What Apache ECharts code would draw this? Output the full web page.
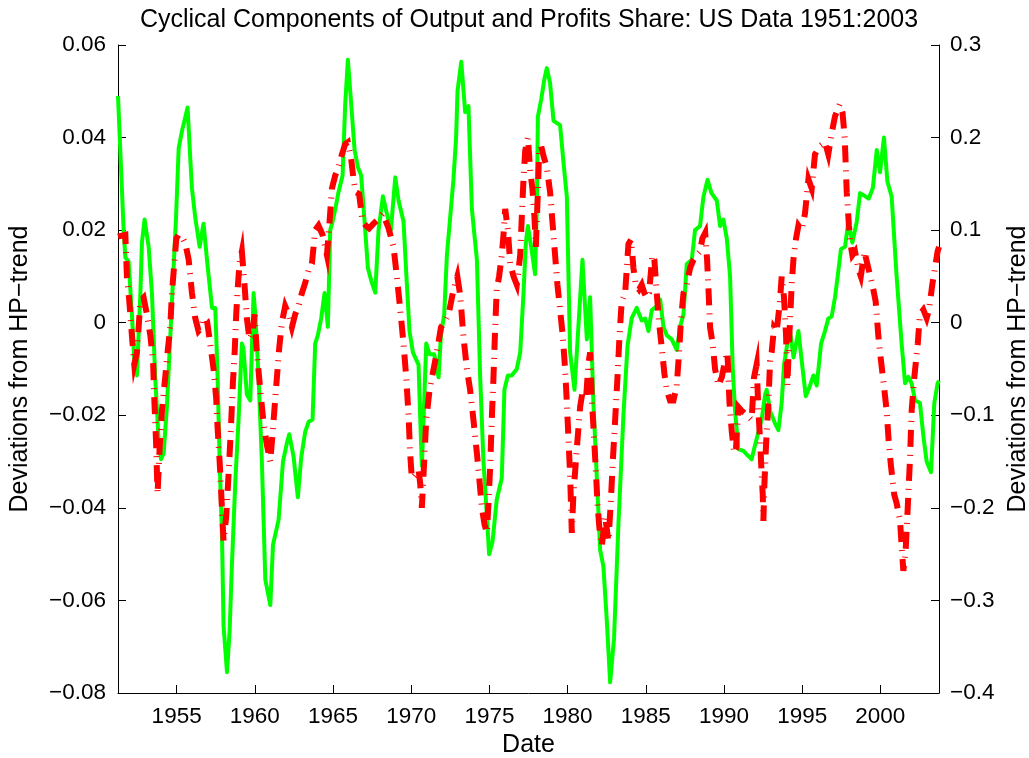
<!DOCTYPE html>
<html>
<head>
<meta charset="utf-8">
<title>Cyclical Components of Output and Profits Share</title>
<script src="https://cdn.jsdelivr.net/npm/echarts@6/dist/echarts.min.js"></script>
<style>
  html, body { margin: 0; padding: 0; background: #ffffff; overflow: hidden; }
  #chart { position: absolute; left: 0; top: 0; width: 1029px; height: 758px; }
</style>
</head>
<body>
<div id="chart"></div>
<script>
// Output: HP-filtered cyclical component (left axis)
const outputYears = [
  1951.25, 1951.61, 1951.72, 1951.93, 1952.14, 1952.29, 1952.46, 1952.68, 1952.78, 1952.95,
  1953.21, 1953.42, 1953.63, 1953.85, 1954.00, 1954.17, 1954.38, 1954.70, 1954.96, 1955.13,
  1955.34, 1955.70, 1955.87, 1955.98, 1956.19, 1956.47, 1956.72, 1956.94, 1957.26, 1957.47,
  1957.62, 1957.75, 1957.90, 1958.00, 1958.22, 1958.39, 1958.53, 1958.75, 1958.96, 1959.17,
  1959.27, 1959.49, 1959.71, 1959.92, 1960.03, 1960.24, 1960.45, 1960.67, 1960.99, 1961.16,
  1961.52, 1961.80, 1962.05, 1962.20, 1962.48, 1962.75, 1962.97, 1963.22, 1963.44, 1963.69,
  1963.86, 1964.03, 1964.24, 1964.46, 1964.67, 1964.82, 1964.97, 1965.14, 1965.35, 1965.61,
  1965.78, 1965.95, 1966.16, 1966.38, 1966.59, 1966.80, 1967.02, 1967.23, 1967.44, 1967.70,
  1967.91, 1968.19, 1968.44, 1968.70, 1968.98, 1969.19, 1969.51, 1969.68, 1969.89, 1970.11,
  1970.47, 1970.57, 1970.68, 1970.79, 1970.96, 1971.17, 1971.47, 1971.75, 1971.90, 1972.11,
  1972.28, 1972.70, 1972.87, 1972.96, 1973.20, 1973.45, 1973.66, 1973.88, 1974.20, 1974.41,
  1974.62, 1974.84, 1974.98, 1975.20, 1975.47, 1975.79, 1975.96, 1976.18, 1976.43, 1976.75,
  1976.97, 1977.18, 1977.33, 1977.46, 1977.71, 1977.92, 1978.03, 1978.10, 1978.31, 1978.52,
  1978.67, 1978.88, 1979.10, 1979.52, 1979.74, 1979.95, 1980.16, 1980.44, 1980.69, 1980.95,
  1981.23, 1981.44, 1981.65, 1981.87, 1982.08, 1982.29, 1982.51, 1982.72, 1982.97, 1983.25,
  1983.57, 1983.83, 1984.10, 1984.42, 1984.74, 1984.96, 1985.17, 1985.38, 1985.70, 1985.92,
  1986.13, 1986.34, 1986.66, 1986.98, 1987.19, 1987.41, 1987.62, 1987.94, 1988.15, 1988.47,
  1988.69, 1988.95, 1989.20, 1989.54, 1989.75, 1989.96, 1990.18, 1990.39, 1990.56, 1990.71,
  1990.92, 1991.24, 1991.50, 1991.77, 1991.99, 1992.20, 1992.41, 1992.63, 1992.73, 1992.95,
  1993.27, 1993.48, 1993.69, 1993.84, 1994.05, 1994.22, 1994.45, 1994.76, 1994.97, 1995.23,
  1995.50, 1995.72, 1995.93, 1996.21, 1996.46, 1996.67, 1996.89, 1997.10, 1997.27, 1997.48,
  1997.74, 1997.95, 1998.21, 1998.49, 1998.70, 1998.95, 1999.25, 1999.52, 1999.77, 1999.98,
  2000.23, 2000.45, 2000.72, 2001.04, 2001.36, 2001.58, 2001.79, 2002.00, 2002.22, 2002.53,
  2002.75, 2002.96, 2003.24, 2003.45, 2003.66, 2003.75
];
const outputValues = [
  0.0490, 0.0200, 0.0141, 0.0132, 0.0018, -0.0082, -0.0114, 0.0064, 0.0173, 0.0223,
  0.0164, 0.0064, -0.0118, -0.0255, -0.0295, -0.0282, -0.0180, 0.0045, 0.0227, 0.0377,
  0.0414, 0.0465, 0.0355, 0.0290, 0.0227, 0.0164, 0.0214, 0.0136, 0.0032, 0.0032,
  -0.0118, -0.0300, -0.0460, -0.0655, -0.0755, -0.0664, -0.0527, -0.0345, -0.0209, -0.0045,
  -0.0055, -0.0155, -0.0168, 0.0064, 0.0018, -0.0118, -0.0300, -0.0555, -0.0610, -0.0480,
  -0.0426, -0.0300, -0.0260, -0.0241, -0.0290, -0.0377, -0.0290, -0.0236, -0.0214, -0.0209,
  -0.0045, -0.0027, 0.0009, 0.0064, -0.0009, 0.0200, 0.0218, 0.0245, 0.0282, 0.0318,
  0.0473, 0.0568, 0.0473, 0.0373, 0.0336, 0.0318, 0.0218, 0.0118, 0.0091, 0.0065,
  0.0200, 0.0273, 0.0236, 0.0200, 0.0314, 0.0264, 0.0218, 0.0109, -0.0018, -0.0064,
  -0.0091, -0.0200, -0.0309, -0.0209, -0.0045, -0.0068, -0.0068, -0.0118, -0.0027, 0.0018,
  0.0145, 0.0309, 0.0400, 0.0500, 0.0564, 0.0455, 0.0468, 0.0245, 0.0136, -0.0118,
  -0.0300, -0.0418, -0.0500, -0.0473, -0.0382, -0.0336, -0.0145, -0.0114, -0.0114, -0.0100,
  -0.0064, 0.0064, 0.0173, 0.0209, 0.0155, 0.0105, 0.0245, 0.0445, 0.0482, 0.0527,
  0.0550, 0.0518, 0.0436, 0.0427, 0.0345, 0.0273, -0.0064, -0.0145, -0.0009, 0.0136,
  -0.0036, 0.0055, -0.0173, -0.0336, -0.0491, -0.0527, -0.0645, -0.0777, -0.0682, -0.0436,
  -0.0200, -0.0050, 0.0010, 0.0032, 0.0005, 0.0009, -0.0018, 0.0027, 0.0036, 0.0050,
  -0.0009, -0.0027, -0.0036, -0.0059, -0.0009, 0.0018, 0.0127, 0.0136, 0.0200, 0.0209,
  0.0273, 0.0309, 0.0280, 0.0264, 0.0209, 0.0223, 0.0182, 0.0100, -0.0100, -0.0191,
  -0.0273, -0.0277, -0.0286, -0.0295, -0.0264, -0.0236, -0.0209, -0.0155, -0.0145, -0.0191,
  -0.0218, -0.0232, -0.0173, -0.0091, -0.0045, -0.0018, -0.0075, -0.0018, -0.0082, -0.0159,
  -0.0136, -0.0114, -0.0136, -0.0045, -0.0018, 0.0009, 0.0014, 0.0055, 0.0100, 0.0159,
  0.0164, 0.0218, 0.0173, 0.0218, 0.0280, 0.0275, 0.0268, 0.0291, 0.0373, 0.0325,
  0.0400, 0.0305, 0.0273, 0.0100, -0.0045, -0.0131, -0.0117, -0.0131, -0.0168, -0.0173,
  -0.0245, -0.0300, -0.0323, -0.0173, -0.0131, -0.0125
];

// Profits share: HP-filtered cyclical component (right axis)
const profitYears = [
  1951.25, 1951.72, 1951.82, 1951.93, 1952.04, 1952.14, 1952.29, 1952.46, 1952.57, 1952.68,
  1952.89, 1953.10, 1953.32, 1953.49, 1953.57, 1953.68, 1953.78, 1953.91, 1954.06, 1954.27,
  1954.42, 1954.59, 1954.70, 1954.85, 1954.98, 1955.13, 1955.34, 1955.55, 1955.77, 1955.98,
  1956.19, 1956.40, 1956.62, 1956.72, 1956.94, 1957.15, 1957.36, 1957.53, 1957.62, 1957.75,
  1957.83, 1957.92, 1958.00, 1958.17, 1958.32, 1958.47, 1958.60, 1958.71, 1958.81, 1958.90,
  1959.02, 1959.17, 1959.34, 1959.49, 1959.66, 1959.88, 1959.98, 1960.13, 1960.35, 1960.56,
  1960.77, 1960.99, 1961.16, 1961.37, 1961.56, 1961.73, 1961.94, 1962.16, 1962.37, 1962.58,
  1962.80, 1963.01, 1963.22, 1963.44, 1963.65, 1963.86, 1964.07, 1964.33, 1964.61, 1964.76,
  1964.93, 1965.14, 1965.35, 1965.57, 1965.78, 1965.95, 1966.16, 1966.31, 1966.46, 1966.67,
  1966.89, 1967.10, 1967.31, 1967.59, 1967.90, 1968.19, 1968.55, 1968.87, 1969.08, 1969.30,
  1969.51, 1969.68, 1969.83, 1969.93, 1970.04, 1970.25, 1970.47, 1970.57, 1970.68, 1970.83,
  1970.96, 1971.17, 1971.43, 1971.64, 1971.90, 1972.11, 1972.39, 1972.66, 1972.95, 1973.13,
  1973.34, 1973.56, 1973.77, 1973.98, 1974.20, 1974.35, 1974.52, 1974.69, 1974.84, 1974.94,
  1975.05, 1975.15, 1975.26, 1975.37, 1975.47, 1975.62, 1975.79, 1975.90, 1976.01, 1976.18,
  1976.33, 1976.54, 1976.75, 1976.97, 1977.07, 1977.18, 1977.29, 1977.46, 1977.61, 1977.75,
  1977.88, 1977.97, 1978.10, 1978.18, 1978.31, 1978.46, 1978.67, 1978.88, 1979.05, 1979.20,
  1979.35, 1979.52, 1979.69, 1979.84, 1979.95, 1980.06, 1980.16, 1980.27, 1980.37, 1980.59,
  1980.80, 1980.97, 1981.18, 1981.33, 1981.44, 1981.55, 1981.70, 1981.82, 1981.91, 1982.04,
  1982.19, 1982.40, 1982.61, 1982.76, 1982.89, 1983.04, 1983.19, 1983.32, 1983.46, 1983.68,
  1983.89, 1984.06, 1984.21, 1984.36, 1984.57, 1984.74, 1984.91, 1985.06, 1985.21, 1985.42,
  1985.55, 1985.70, 1985.85, 1986.02, 1986.19, 1986.34, 1986.55, 1986.77, 1986.98, 1987.13,
  1987.26, 1987.41, 1987.62, 1987.83, 1988.05, 1988.26, 1988.47, 1988.62, 1988.80, 1988.92,
  1989.02, 1989.11, 1989.28, 1989.43, 1989.64, 1989.86, 1990.07, 1990.22, 1990.35, 1990.50,
  1990.65, 1990.77, 1990.92, 1991.13, 1991.46, 1991.77, 1991.92, 1992.09, 1992.20, 1992.31,
  1992.41, 1992.48, 1992.52, 1992.58, 1992.69, 1992.84, 1992.95, 1993.05, 1993.20, 1993.37,
  1993.58, 1993.69, 1993.84, 1993.97, 1994.05, 1994.18, 1994.33, 1994.44, 1994.61, 1994.76,
  1994.97, 1995.18, 1995.40, 1995.61, 1995.82, 1996.14, 1996.46, 1996.67, 1996.89, 1997.10,
  1997.40, 1997.58, 1997.72, 1997.85, 1997.99, 1998.12, 1998.21, 1998.38, 1998.59, 1998.75,
  1998.98, 1999.23, 1999.49, 1999.70, 1999.87, 2000.04, 2000.26, 2000.40, 2000.55, 2000.68,
  2000.89, 2001.04, 2001.26, 2001.36, 2001.47, 2001.62, 2001.75, 2001.90, 2002.00, 2002.17,
  2002.39, 2002.53, 2002.75, 2002.96, 2003.11, 2003.32, 2003.49, 2003.66, 2003.75
];
const profitValues = [
  0.093, 0.095, 0.050, 0.032, 0.009, -0.014, -0.045, -0.032, -0.005, 0.023,
  0.027, 0.009, -0.014, -0.041, -0.082, -0.127, -0.185, -0.136, -0.095, -0.059,
  -0.032, -0.005, 0.032, 0.064, 0.091, 0.095, 0.093, 0.086, 0.068, 0.032,
  0.005, -0.009, -0.005, 0.005, 0.002, -0.023, -0.050, -0.082, -0.114, -0.150,
  -0.177, -0.209, -0.236, -0.209, -0.164, -0.114, -0.064, -0.032, 0.009, 0.036,
  0.064, 0.077, 0.041, 0.005, -0.018, -0.009, 0.009, -0.032, -0.073, -0.109,
  -0.132, -0.150, -0.114, -0.068, -0.027, 0.000, 0.018, 0.009, -0.005, 0.009,
  0.018, 0.032, 0.043, 0.057, 0.064, 0.100, 0.105, 0.095, 0.073, 0.105,
  0.145, 0.159, 0.168, 0.182, 0.193, 0.195, 0.177, 0.155, 0.141, 0.139,
  0.109, 0.105, 0.102, 0.107, 0.112, 0.118, 0.102, 0.082, 0.050, 0.014,
  -0.023, -0.059, -0.100, -0.141, -0.168, -0.164, -0.159, -0.173, -0.200, -0.150,
  -0.105, -0.073, -0.050, -0.032, -0.005, 0.000, 0.009, 0.032, 0.050, 0.030,
  -0.015, -0.050, -0.073, -0.105, -0.141, -0.168, -0.200, -0.218, -0.227, -0.195,
  -0.155, -0.105, -0.059, -0.005, 0.036, 0.050, 0.073, 0.095, 0.123, 0.100,
  0.064, 0.050, 0.041, 0.073, 0.114, 0.155, 0.186, 0.200, 0.164, 0.145,
  0.114, 0.082, 0.141, 0.186, 0.191, 0.180, 0.168, 0.141, 0.105, 0.073,
  0.041, 0.014, -0.014, -0.050, -0.086, -0.127, -0.164, -0.227, -0.186, -0.136,
  -0.091, -0.073, -0.082, -0.045, -0.032, -0.082, -0.127, -0.164, -0.195, -0.223,
  -0.241, -0.209, -0.236, -0.195, -0.150, -0.105, -0.059, -0.014, 0.023, 0.032,
  0.085, 0.090, 0.059, 0.041, 0.036, 0.041, 0.032, 0.027, 0.032, 0.073,
  0.068, 0.032, 0.000, -0.027, -0.055, -0.073, -0.084, -0.084, -0.068, -0.032,
  0.005, 0.032, 0.041, 0.059, 0.068, 0.073, 0.077, 0.091, 0.097, 0.068,
  0.032, -0.005, -0.023, -0.050, -0.068, -0.059, -0.041, -0.032, -0.086, -0.118,
  -0.141, -0.136, -0.091, -0.095, -0.100, -0.105, -0.059, -0.045, -0.095, -0.127,
  -0.164, -0.186, -0.214, -0.177, -0.132, -0.086, -0.041, -0.032, -0.005, -0.009,
  0.023, 0.050, 0.027, -0.014, -0.068, -0.014, 0.041, 0.068, 0.091, 0.105,
  0.100, 0.118, 0.155, 0.145, 0.182, 0.191, 0.195, 0.182, 0.205, 0.223,
  0.236, 0.227, 0.200, 0.141, 0.105, 0.082, 0.073, 0.077, 0.058, 0.050,
  0.077, 0.059, 0.041, 0.023, -0.014, -0.041, -0.073, -0.095, -0.132, -0.155,
  -0.186, -0.195, -0.214, -0.241, -0.268, -0.245, -0.200, -0.145, -0.095, -0.059,
  -0.023, 0.009, 0.014, 0.005, 0.014, 0.041, 0.059, 0.077, 0.082
];

// Axis ticks
const yearTicks = [1955, 1960, 1965, 1970, 1975, 1980, 1985, 1990, 1995, 2000];
const leftTickRange = { min: -0.08, max: 0.06, step: 0.02 };
const rightTickRange = { min: -0.4, max: 0.3, step: 0.1 };

const FONT = '"Liberation Sans", Arial, Helvetica, sans-serif';
const MINUS = '\u2212';
const TICK_FONT = 22.5;
const LABEL_FONT = 25;

function pairs(xs, ys) {
  return xs.map((x, i) => [x, ys[i]]);
}
function tickText(v, digits) {
  if (Math.abs(v) < 1e-9) return '0';
  const s = Math.abs(v).toFixed(digits);
  return (v < 0 ? MINUS : '') + s;
}

const chart = echarts.init(document.getElementById('chart'), null, { renderer: 'canvas' });

const axisBase = {
  axisLine: { show: true, onZero: false, lineStyle: { color: '#000', width: 1 } },
  axisTick: { show: true, inside: true, length: 8, lineStyle: { color: '#000', width: 1 } },
  splitLine: { show: false },
  nameTextStyle: { color: '#000', fontSize: LABEL_FONT, fontFamily: FONT }
};

chart.setOption({
  animation: false,
  backgroundColor: '#ffffff',
  title: {
    text: 'Cyclical Components of Output and Profits Share: US Data 1951:2003',
    left: 524,
    textAlign: 'center',
    top: 3,
    textStyle: { color: '#000', fontSize: LABEL_FONT, fontWeight: 'normal', fontFamily: FONT }
  },
  // fixed plot box; labels and names sit outside it
  grid: { left: 118, right: 90, top: 45, bottom: 65, containLabel: false, outerBoundsMode: 'none' },
  xAxis: Object.assign({}, axisBase, {
    type: 'value',
    min: 1951.25,
    max: 2003.75,
    name: 'Date',
    nameLocation: 'middle',
    nameGap: 40,
    axisTick: Object.assign({}, axisBase.axisTick, { customValues: yearTicks }),
    axisLabel: {
      customValues: yearTicks,
      color: '#000', fontSize: TICK_FONT, fontFamily: FONT, margin: 12,
      formatter: v => String(Math.round(v))
    }
  }),
  yAxis: [
    Object.assign({}, axisBase, {
      type: 'value',
      position: 'left',
      min: leftTickRange.min,
      max: leftTickRange.max,
      interval: leftTickRange.step,
      name: 'Deviations from HP\u2212trend',
      nameLocation: 'middle',
      nameRotate: 90,
      nameGap: 85,
      axisLabel: { color: '#000', fontSize: TICK_FONT, fontFamily: FONT, margin: 12,
                   formatter: v => tickText(v, 2) }
    }),
    Object.assign({}, axisBase, {
      type: 'value',
      position: 'right',
      min: rightTickRange.min,
      max: rightTickRange.max,
      interval: rightTickRange.step,
      name: 'Deviations from HP\u2212trend',
      nameLocation: 'middle',
      nameRotate: 90,
      nameGap: 65,
      axisLabel: { color: '#000', fontSize: TICK_FONT, fontFamily: FONT, margin: 11,
                   formatter: v => tickText(v, 1) }
    })
  ],
  series: [
    {
      name: 'Output',
      type: 'line',
      yAxisIndex: 0,
      data: pairs(outputYears, outputValues),
      showSymbol: false,
      symbol: 'none',
      lineStyle: { color: '#00ff00', width: 4, join: 'round' },
      z: 2
    },
    {
      name: 'Profits share',
      type: 'line',
      yAxisIndex: 1,
      data: pairs(profitYears, profitValues),
      showSymbol: false,
      symbol: 'none',
      lineStyle: { color: '#ff0000', width: 6, type: [17, 8, 1, 8], cap: 'butt', join: 'miter' },
      z: 3
    }
  ]
});
</script>
</body>
</html>
